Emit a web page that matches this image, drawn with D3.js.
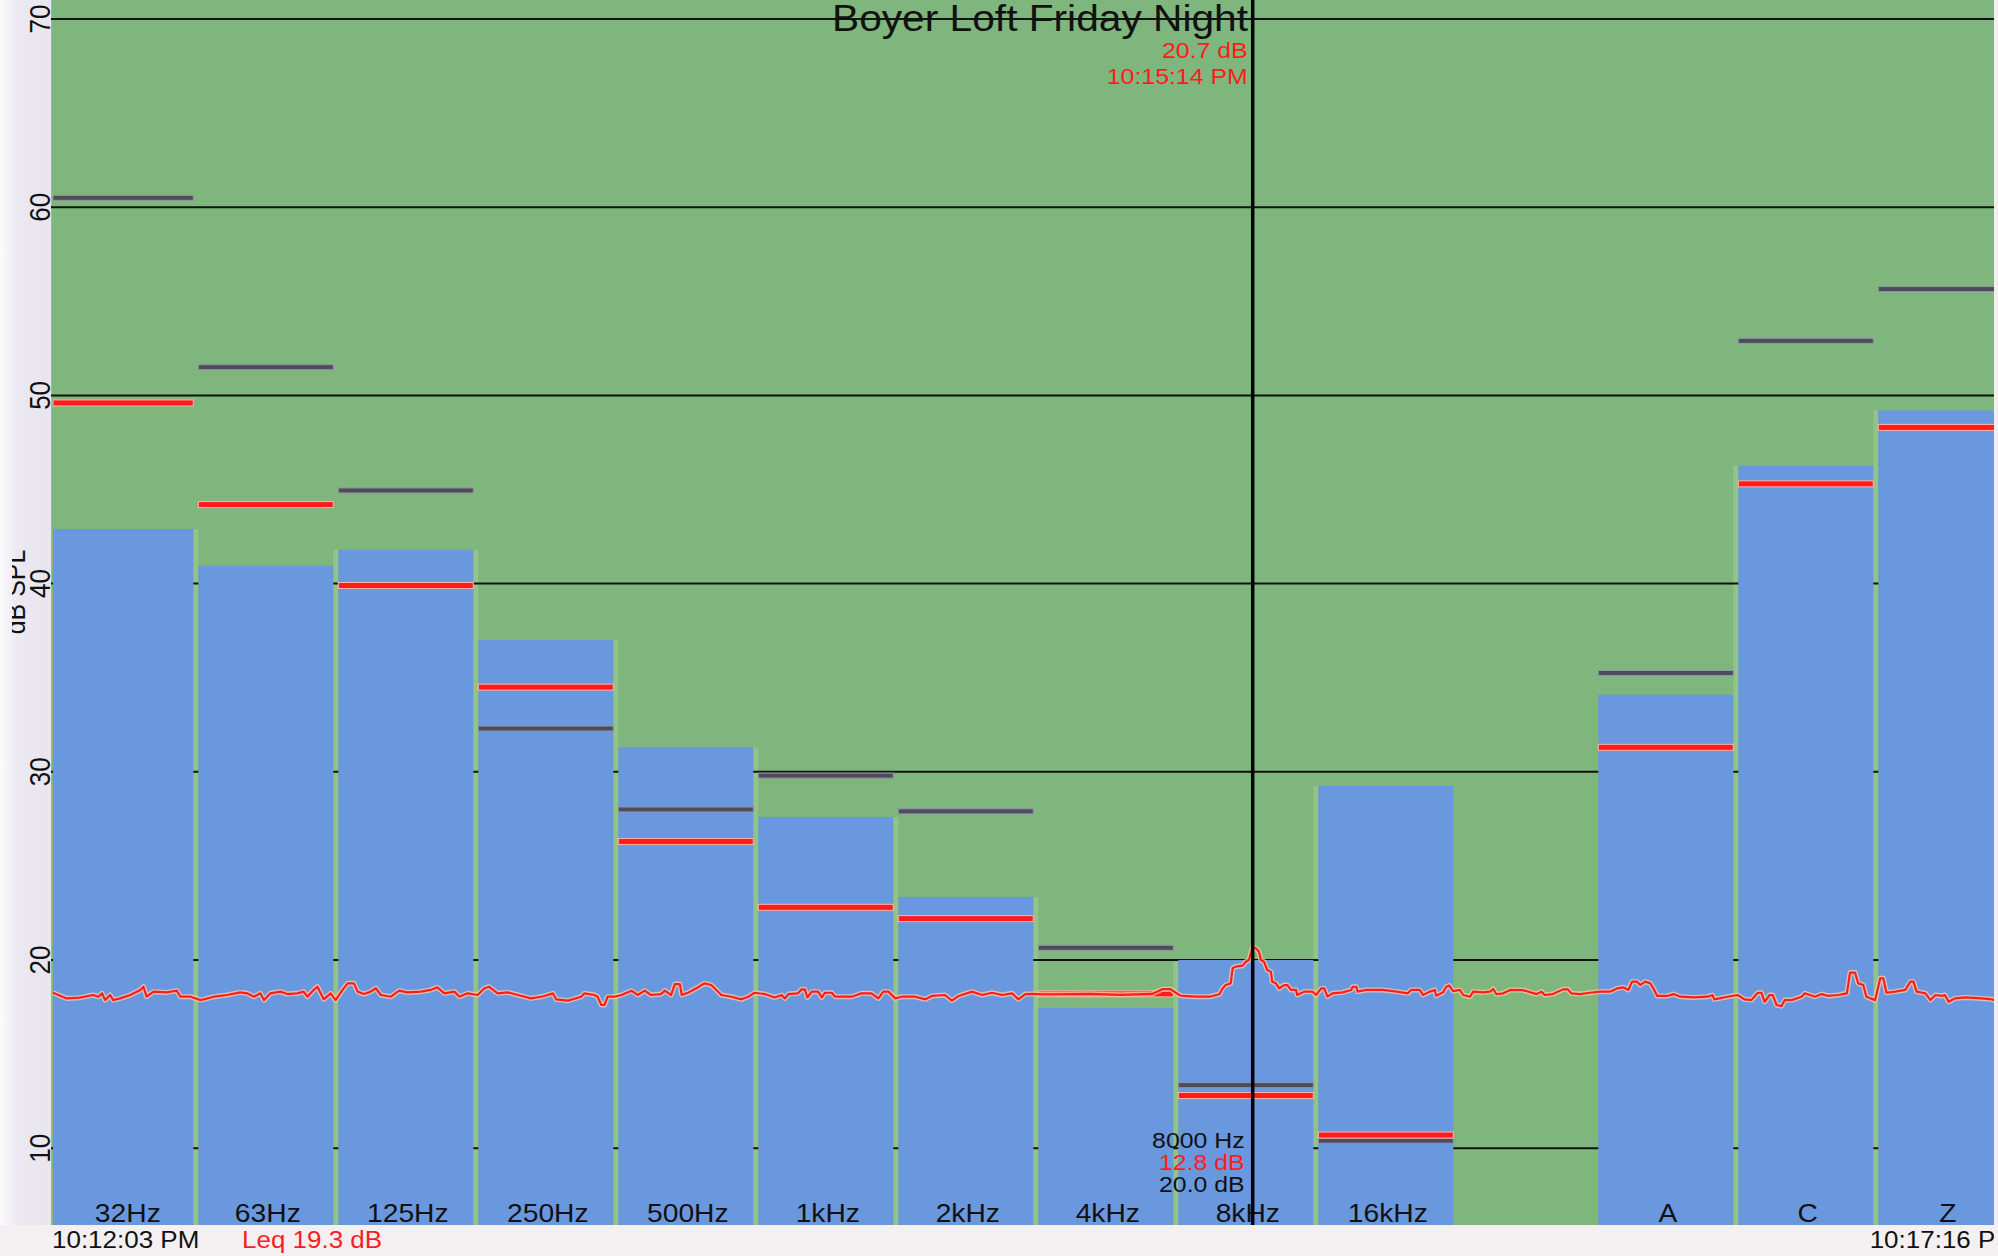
<!DOCTYPE html>
<html>
<head>
<meta charset="utf-8">
<script src="https://cdn.jsdelivr.net/npm/d3@7"></script>
<style>
  html, body { margin: 0; padding: 0; background: #f4f0f2; }
  svg { display: block; }
</style>
</head>
<body>
<svg id="chart" width="1998" height="1256"></svg>
<script>
// Octave bands plus the A / C / Z weighted totals (one blank slot between them)
const bands = ["32Hz", "63Hz", "125Hz", "250Hz", "500Hz", "1kHz", "2kHz", "4kHz", "8kHz", "16kHz", "", "A", "C", "Z"];

// Current level per band (blue bars), dB SPL
const bandLevel = [42.9, 40.95, 41.8, 37.0, 31.3, 27.6, 23.35, 17.45, 20.0, 29.25, null, 34.1, 46.25, 49.2];
// Leq per band (red markers)
const bandLeq = [49.6, 44.2, 39.9, 34.5, 26.3, 22.8, 22.2, 18.2, 12.8, 10.7, null, 31.3, 45.3, 48.3];
// Peak hold per band (grey markers)
const bandPeak = [60.5, 51.5, 44.95, 32.3, 28.0, 29.8, 27.9, 20.65, 13.35, 10.4, null, 35.25, 52.9, 55.65];

const yTicks = [10, 20, 30, 40, 50, 60, 70];

// Overall level over the session: [seconds since start, dB]
const levelTrace = [
  [0, 18.26], [2.2, 17.96], [4.3, 18.0], [6.4, 18.14], [7.2, 18.05], [7.8, 18.23], [8.3, 17.87], [9.1, 18.14],
  [9.6, 17.87], [10.7, 17.96], [12.3, 18.14], [13.9, 18.41], [14.4, 18.58], [14.9, 18.05], [16.0, 18.32],
  [18.1, 18.28], [19.7, 18.37], [20.3, 18.05], [21.9, 18.05], [23.5, 17.87], [25.6, 18.05], [27.7, 18.14],
  [29.8, 18.28], [30.9, 18.23], [32.0, 18.05], [33.0, 18.23], [33.6, 17.87], [34.6, 18.23], [36.2, 18.32],
  [37.3, 18.19], [38.9, 18.23], [39.9, 18.32], [40.5, 18.05], [41.5, 18.41], [42.1, 18.58], [43.1, 17.91],
  [44.2, 18.23], [45.0, 17.87], [46.1, 18.41], [46.9, 18.76], [47.9, 18.76], [48.5, 18.32], [49.5, 18.19],
  [50.6, 18.32], [51.4, 18.5], [52.2, 18.14], [53.8, 18.05], [55.1, 18.37], [56.4, 18.28], [58.6, 18.32],
  [60.1, 18.41], [61.2, 18.55], [62.3, 18.23], [63.9, 18.32], [64.7, 18.05], [66.0, 18.23], [67.6, 18.14],
  [68.7, 18.5], [69.4, 18.58], [70.8, 18.23], [72.4, 18.28], [74.0, 18.14], [76.1, 17.96], [77.7, 18.05],
  [78.2, 18.09], [79.6, 18.23], [80.1, 17.91], [82.0, 17.84], [84.1, 18.05], [84.6, 18.23], [86.2, 18.14],
  [86.7, 18.05], [87.3, 17.61], [87.8, 17.61], [88.3, 18.05], [89.4, 18.05], [90.5, 18.14], [92.1, 18.37],
  [93.1, 18.14], [94.2, 18.37], [95.2, 18.14], [96.8, 18.19], [97.4, 18.37], [98.4, 18.14], [99.0, 18.72],
  [99.8, 18.72], [100.1, 18.14], [101.1, 18.26], [102.7, 18.55], [103.7, 18.76], [104.8, 18.67], [105.6, 18.41],
  [106.4, 18.14], [108.0, 18.05], [109.6, 17.91], [110.7, 18.05], [111.7, 18.26], [113.3, 18.19], [114.9, 18.01],
  [116.0, 18.14], [116.5, 17.96], [117.1, 18.19], [118.6, 18.23], [119.2, 18.44], [119.7, 18.44], [120.1, 18.01],
  [120.8, 18.32], [121.8, 18.32], [122.4, 18.01], [122.9, 18.26], [124.0, 18.26], [124.5, 18.05], [127.2, 18.05],
  [128.7, 18.23], [130.3, 18.23], [131.4, 17.96], [132.2, 18.32], [133.0, 18.32], [134.1, 17.96], [135.1, 18.05],
  [137.3, 18.05], [138.9, 17.91], [139.9, 18.09], [142.0, 18.14], [143.1, 17.84], [144.2, 18.09], [146.3, 18.32],
  [147.9, 18.14], [149.5, 18.26], [151.1, 18.14], [152.7, 18.23], [153.7, 17.91], [154.8, 18.19], [155.9, 18.2],
  [157.5, 18.18], [160, 18.18], [165, 18.2], [170, 18.15], [175, 18.2], [176.6, 18.45], [177.9, 18.45],
  [179.3, 18.14], [179.8, 18.09], [181.9, 18.05], [184.1, 18.05], [185.7, 18.18], [186.2, 18.49], [186.7, 18.67],
  [187.5, 18.76], [187.8, 19.56], [188.3, 19.65], [189.4, 19.7], [189.9, 19.91], [190.4, 20.0], [191.0, 20.7],
  [191.5, 20.62], [192.0, 20.44], [192.3, 20.0], [192.8, 19.91], [193.3, 19.47], [193.9, 19.38], [194.1, 18.85],
  [194.7, 18.76], [195.2, 18.49], [196.0, 18.67], [196.5, 18.67], [197.1, 18.41], [197.9, 18.41], [198.1, 18.14],
  [199.2, 18.32], [200.5, 18.32], [201.1, 18.14], [201.9, 18.49], [202.4, 18.49], [202.9, 18.05], [203.7, 18.23],
  [205.3, 18.28], [206.7, 18.41], [206.9, 18.58], [207.5, 18.58], [207.7, 18.32], [209.1, 18.41], [211.7, 18.41],
  [213.9, 18.32], [215.7, 18.23], [216.2, 18.41], [217.6, 18.41], [218.1, 18.14], [219.2, 18.32], [220.0, 18.41],
  [220.2, 18.1], [221.3, 18.28], [221.8, 18.58], [222.3, 18.64], [222.9, 18.35], [224.0, 18.41], [224.5, 18.14],
  [225.6, 18.05], [226.1, 18.32], [227.7, 18.28], [228.8, 18.32], [229.3, 18.46], [229.8, 18.18], [230.9, 18.23],
  [232.0, 18.41], [234.0, 18.4], [236.2, 18.19], [237.0, 18.32], [237.5, 18.14], [238.8, 18.19], [240.4, 18.44],
  [241.2, 18.44], [241.7, 18.23], [243.1, 18.19], [244.7, 18.26], [246.3, 18.32], [247.9, 18.32], [249.0, 18.49],
  [250.0, 18.55], [250.8, 18.41], [251.4, 18.85], [252.2, 18.85], [252.7, 18.67], [253.5, 18.85], [254.3, 18.76],
  [254.8, 18.49], [255.4, 18.09], [257.0, 18.09], [258.0, 18.19], [259.1, 18.05], [261.2, 18.01], [263.4, 18.05],
  [264.2, 18.14], [264.5, 17.91], [266.6, 18.05], [268.2, 18.14], [269.3, 17.91], [270.4, 17.87], [271.4, 18.26],
  [272.0, 18.26], [272.5, 17.78], [273.3, 18.14], [273.8, 18.14], [274.4, 17.61], [275.2, 17.55], [275.7, 17.87],
  [276.8, 17.87], [278.4, 18.05], [278.9, 18.23], [280.5, 18.05], [281.6, 18.19], [282.6, 18.09], [284.2, 18.14],
  [285.6, 18.23], [286.1, 19.33], [286.9, 19.33], [287.4, 18.76], [288.2, 18.67], [288.7, 18.05], [290.1, 17.87],
  [290.9, 19.03], [291.4, 19.03], [291.9, 18.26], [293.3, 18.32], [294.9, 18.41], [295.7, 18.85], [296.2, 18.85],
  [296.7, 18.32], [298.1, 18.23], [298.9, 17.87], [299.7, 18.14], [300.7, 18.09], [301.2, 18.14], [301.8, 17.78],
  [302.8, 17.96], [304.4, 18.01], [307.1, 17.96], [308.7, 17.91], [309.5, 17.78], [310.0, 17.96]
];

// Session timing and readouts
const sessionStart = "22:12:03";
const sessionSeconds = 313;
const cursorSeconds = 191;
const cursorLevel = 20.7;
const cursorBandIndex = 8;
const cursorBandName = "8000 Hz";
const sessionLeq = 19.3;
const chartTitle = "Boyer Loft Friday Night";
const yAxisTitle = "dB SPL";

// ---------------------------------------------------------------------------
const W = 1998, H = 1256;
const plot = { left: 51, right: 2015, top: 0, bottom: 1225 };
const COLORS = {
  field: "#7eb67d", bar: "#6a98df", gap: "#92c48a", grid: "#111", red: "#ff1c1c",
  redEdge: "#ffb4a4", grey: "#4c4c5c", greyEdge: "#9494a6", ink: "#111"
};
const FONT = "'Liberation Sans', Arial, Helvetica, sans-serif";
const STRETCH = 1.13;

const svg = d3.select("#chart");
const parseClock = d3.timeParse("%H:%M:%S");
const fmtClock = d3.timeFormat("%-I:%M:%S %p");
const t0 = parseClock(sessionStart);
const clockAt = s => fmtClock(new Date(t0.getTime() + s * 1000));

const y = d3.scaleLinear().domain([5.92, 71.01]).range([plot.bottom, plot.top]);
const xBand = d3.scaleBand().domain(bands).range([58.3, 2013.3]).paddingInner(5 / 140).paddingOuter(0);
const xTime = d3.scaleLinear().domain([0, sessionSeconds]).range([53, 2019]);

// first bar runs right up to the left edge of the field
const barX = (d, i) => i === 0 ? plot.left + 2 : xBand(d);
const barW = (d, i) => i === 0 ? xBand(d) + xBand.bandwidth() - (plot.left + 2) : xBand.bandwidth();

function label(g, x, yPos, text, { size, anchor = "start", fill = COLORS.ink, rotate = 0 }) {
  const tr = rotate
    ? `translate(${x},${yPos}) rotate(${rotate}) scale(1,${STRETCH})`
    : `translate(${x},${yPos}) scale(${STRETCH},1)`;
  return g.append("text")
    .attr("transform", tr)
    .attr("text-anchor", anchor)
    .attr("font-family", FONT)
    .attr("font-size", size)
    .attr("fill", fill)
    .text(text);
}

// page margins
svg.append("rect").attr("width", W).attr("height", H).attr("fill", "#f4f0f1");
const defs = svg.append("defs");
const lg = defs.append("linearGradient").attr("id", "margin").attr("x1", 0).attr("x2", 1);
lg.append("stop").attr("offset", 0).attr("stop-color", "#fbfbfc");
lg.append("stop").attr("offset", 0.35).attr("stop-color", "#ece8f1");
lg.append("stop").attr("offset", 1).attr("stop-color", "#e9e5ef");
svg.append("rect").attr("width", plot.left).attr("height", plot.bottom).attr("fill", "url(#margin)");

defs.append("clipPath").attr("id", "view")
  .append("rect").attr("x", 0).attr("y", 0).attr("width", 1994).attr("height", H);
defs.append("clipPath").attr("id", "axisTitleClip")
  .append("rect").attr("x", 12).attr("y", 0).attr("width", 40).attr("height", H);

const root = svg.append("g").attr("clip-path", "url(#view)");

// plotting field
root.append("rect")
  .attr("x", plot.left).attr("y", plot.top)
  .attr("width", plot.right - plot.left).attr("height", plot.bottom - plot.top)
  .attr("fill", COLORS.field);
root.append("line")
  .attr("x1", plot.left + 0.5).attr("x2", plot.left + 0.5)
  .attr("y1", plot.top).attr("y2", plot.bottom)
  .attr("stroke", "#8fb0e0").attr("stroke-width", 1);

const bandData = bands.map((b, i) => ({ b, i, level: bandLevel[i], leq: bandLeq[i], peak: bandPeak[i] }))
  .filter(d => d.level != null);

// light seam between neighbouring bars
const seamTop = d => Math.min(y(d.level), y(bandLevel[d.i - 1]));
root.append("g").selectAll("rect")
  .data(bandData.filter(d => d.i > 0 && bandLevel[d.i - 1] != null)).join("rect")
  .attr("x", d => xBand(d.b) - 5).attr("width", 5)
  .attr("y", seamTop).attr("height", d => plot.bottom - seamTop(d))
  .attr("fill", COLORS.gap);

// horizontal grid
root.append("g").selectAll("line").data(yTicks).join("line")
  .attr("x1", plot.left).attr("x2", plot.right)
  .attr("y1", d => y(d)).attr("y2", d => y(d))
  .attr("stroke", COLORS.grid).attr("stroke-width", 2);

// band bars
root.append("g").selectAll("rect").data(bandData).join("rect")
  .attr("x", d => barX(d.b, d.i)).attr("width", d => barW(d.b, d.i))
  .attr("y", d => y(d.level)).attr("height", d => plot.bottom - y(d.level))
  .attr("fill", COLORS.bar);

// peak-hold markers
root.append("g").selectAll("rect").data(bandData).join("rect")
  .attr("x", d => barX(d.b, d.i)).attr("width", d => barW(d.b, d.i))
  .attr("y", d => y(d.peak) - 2.5).attr("height", 5)
  .attr("fill", COLORS.grey).attr("stroke", COLORS.greyEdge).attr("stroke-width", 1);

// Leq markers
root.append("g").selectAll("rect").data(bandData).join("rect")
  .attr("x", d => barX(d.b, d.i)).attr("width", d => barW(d.b, d.i))
  .attr("y", d => y(d.leq) - 3).attr("height", 6)
  .attr("fill", COLORS.red).attr("stroke", COLORS.redEdge).attr("stroke-width", 1);

// level over time
const line = d3.line().x(d => xTime(d[0])).y(d => y(d[1]));
root.append("path").datum(levelTrace).attr("d", line)
  .attr("fill", "none").attr("stroke", "#f7c9a8").attr("stroke-opacity", 0.8)
  .attr("stroke-width", 5).attr("stroke-linejoin", "round");
root.append("path").datum(levelTrace).attr("d", line)
  .attr("fill", "none").attr("stroke", COLORS.red)
  .attr("stroke-width", 2.2).attr("stroke-linejoin", "round");

// text layer
const txt = root.append("g");

// title
label(txt, 1040, 31, chartTitle, { size: 36, anchor: "middle" });

// cursor readout (top)
const cx = xTime(cursorSeconds);
label(txt, cx - 5, 58, `${cursorLevel.toFixed(1)} dB`, { size: 22, anchor: "end", fill: COLORS.red });
label(txt, cx - 5, 84, clockAt(cursorSeconds), { size: 22, anchor: "end", fill: COLORS.red });

// band readout (bottom)
label(txt, cx - 8, 1148, cursorBandName, { size: 22, anchor: "end" });
label(txt, cx - 8, 1170, `${bandLeq[cursorBandIndex].toFixed(1)} dB`, { size: 22, anchor: "end", fill: COLORS.red });
label(txt, cx - 8, 1192, `${bandLevel[cursorBandIndex].toFixed(1)} dB`, { size: 22, anchor: "end" });

// band names
bands.forEach((b, i) => {
  if (!b) return;
  label(txt, xBand(b) + xBand.bandwidth() / 2 + 2, 1222, b, { size: 25, anchor: "middle" });
});

// y-axis tick labels
yTicks.forEach(v => label(txt, 50, y(v), String(v), { size: 26, anchor: "middle", rotate: -90 }));

// y-axis title (partly cut by the page edge)
label(txt.append("g").attr("clip-path", "url(#axisTitleClip)"), 25, 592, yAxisTitle,
  { size: 25, anchor: "middle", rotate: -90 });

// cursor
root.append("line")
  .attr("x1", cx).attr("x2", cx).attr("y1", plot.top).attr("y2", plot.bottom)
  .attr("stroke", "#000").attr("stroke-width", 3.5);

// time strip
label(txt, 52, 1248, clockAt(0), { size: 23 });
label(txt, 242, 1248, `Leq ${sessionLeq.toFixed(1)} dB`, { size: 23, fill: COLORS.red });
label(txt, 2017, 1248, clockAt(sessionSeconds), { size: 23, anchor: "end" });
</script>
</body>
</html>
